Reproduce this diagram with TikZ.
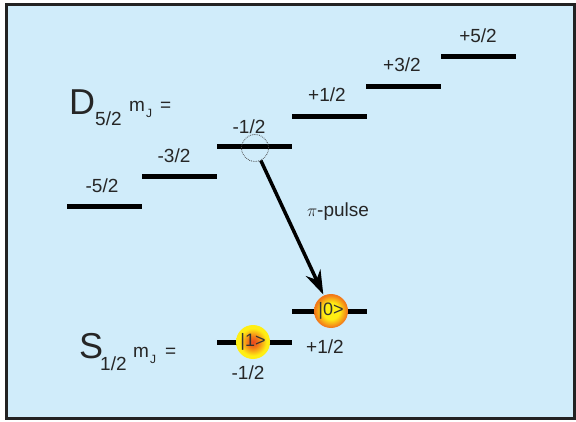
\documentclass[tikz,border=0pt]{standalone}
\usepackage{fontspec}
\setmainfont{Liberation Sans}
\usetikzlibrary{arrows.meta}
\definecolor{bgblue}{RGB}{208,236,250}
\definecolor{framecol}{RGB}{34,34,34}
\definecolor{ballorange}{RGB}{242,120,25}
\definecolor{ballred}{RGB}{235,70,30}
\definecolor{ballyellow}{RGB}{255,238,20}
\pgfdeclareradialshading{ballzero}{\pgfpoint{0bp}{0bp}}{color(0bp)=(ballyellow); color(12bp)=(ballyellow); color(24bp)=(ballorange); color(50bp)=(ballorange)}
\pgfdeclareradialshading{ballone}{\pgfpoint{0bp}{0bp}}{color(0bp)=(ballred); color(8bp)=(ballorange); color(20bp)=(ballyellow); color(50bp)=(ballyellow)}
\begin{document}
\begin{tikzpicture}[x=1pt,y=-1pt,
  level/.style={fill=black,inner sep=0pt,minimum width=75pt,minimum height=5pt},
  lab/.style={font=\fontsize{19}{19}\selectfont,inner sep=0pt,text=black!85},
  ball/.style={circle,minimum size=34pt,inner sep=0pt,font=\fontsize{18}{18}\selectfont,text=black!80},
  big/.style={inner sep=0pt,anchor=base west,font=\fontsize{36}{36}\selectfont,text=black!85},
  mid/.style={inner sep=0pt,anchor=base west,font=\fontsize{19}{19}\selectfont,text=black!85},
  small/.style={inner sep=0pt,anchor=base west,font=\fontsize{12}{12}\selectfont,text=black!85},
]
\useasboundingbox (0,0) rectangle (576,422);
\fill[white] (0,0) rectangle (576,422);
\draw[fill=bgblue,draw=framecol,line width=3pt] (6,5) rectangle (574,418);

% D levels
\node[level] (d5m) at (104.5,207) {};
\node[level] (d3m) at (179.5,177) {};
\node[level] (d1m) at (254.5,147) {};
\node[level] (d1p) at (329.5,117) {};
\node[level] (d3p) at (403.5,87) {};
\node[level] (d5p) at (478.5,57) {};

\node[lab] (l5m) at (102,186) {-5/2};
\node[lab] (l3m) at (174,156) {-3/2};
\node[lab] (l1m) at (249,127) {-1/2};
\node[lab] (l1p) at (327,95) {+1/2};
\node[lab] (l3p) at (402,65) {+3/2};
\node[lab] (l5p) at (478,36) {+5/2};

% D label
\node[big] (Dlab) at (69,115) {D};
\node[mid] (Dsub) at (95,126) {5/2};
\node[mid] (Dm) at (129,112) {m};
\node[small] (DJ) at (146,118) {J};
\node[mid] (Deq) at (160,112) {=};

% S levels
\node[level] (s1m) at (254,342) {};
\node[level] (s1p) at (329,312) {};
\node[lab] (ls1p) at (325,347) {+1/2};
\node[lab] (ls1m) at (248,373) {-1/2};

% S label
\node[big] (Slab) at (79,358) {S};
\node[mid] (Ssub) at (100,370) {1/2};
\node[mid] (Sm) at (133,357) {m};
\node[small] (SJ) at (150,363) {J};
\node[mid] (Seq) at (165,357) {=};

% balls
\node[ball,shading=ballone] (b1) at (253,342) {|1>};
\node[ball,shading=ballzero] (b0) at (331,311) {|0>};

% dotted circle
\node[circle,draw=black!70,densely dotted,line width=0.8pt,minimum size=27pt,inner sep=0pt] (dc) at (255,148) {};

% pi pulse arrow
\draw[line width=3.5pt,-{Stealth[length=24pt,width=16pt]},shorten >=1pt] (dc) -- (b0);
\node[lab] (pp) at (338,212) {$\pi$-pulse};
\end{tikzpicture}
\end{document}
